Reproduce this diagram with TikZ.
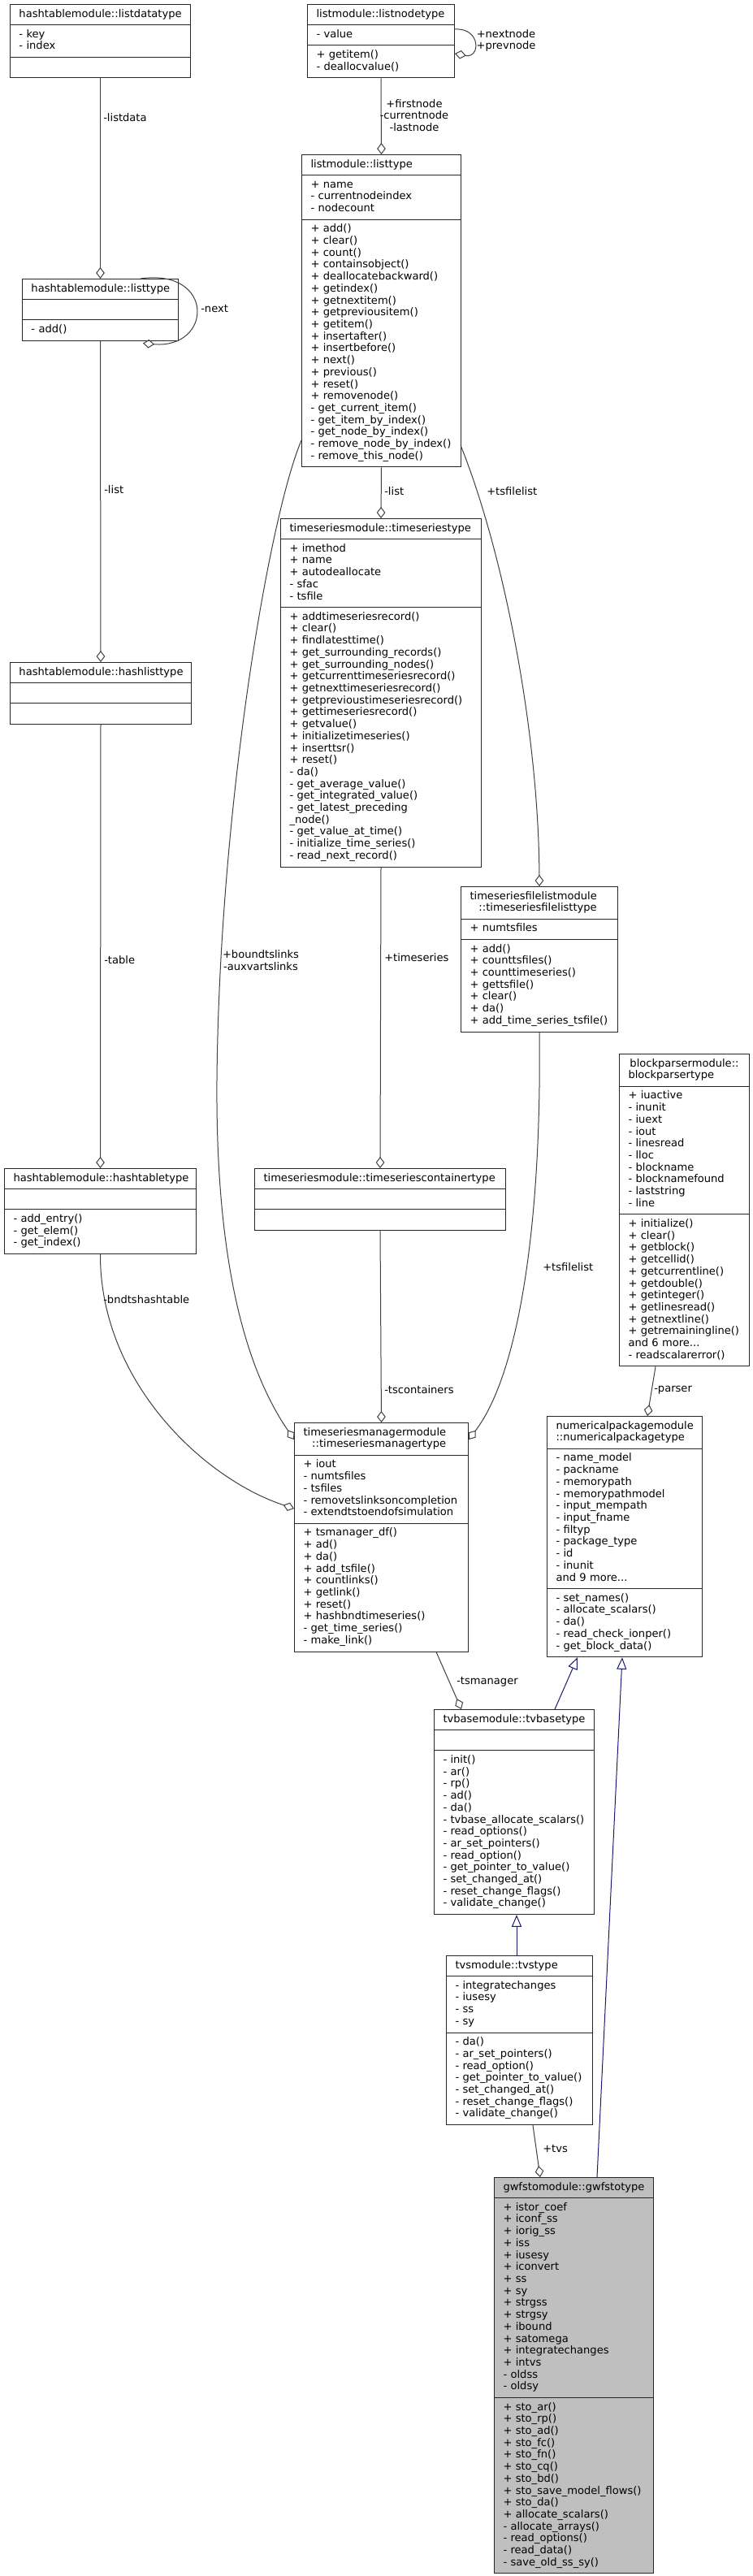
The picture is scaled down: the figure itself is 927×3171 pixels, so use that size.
\documentclass[tikz,border=0pt]{standalone}
\usepackage{fontspec}
\setmainfont{DejaVu Sans}
\usetikzlibrary{shapes.multipart,arrows.meta,calc}
\definecolor{edgegray}{HTML}{404040}
\definecolor{inhblue}{HTML}{191970}
\definecolor{clsgray}{HTML}{BFBFBF}
\newcommand{\cfont}{\fontsize{9.8pt}{11.03pt}\selectfont}
\begin{document}
\begin{tikzpicture}[x=0.75pt,y=-0.75pt,
  cls/.style={draw=black!85, fill=white, line width=0.75pt, rectangle split, rectangle split parts=3,
    inner xsep=8.25pt, inner ysep=3.56pt, anchor=north west, align=left, font=\cfont},
  gcls/.style={cls, fill=clsgray},
  agg/.style={draw=edgegray, line width=0.75pt, -{Diamond[open, length=10.5pt, width=8pt, line width=0.75pt]}},
  inh/.style={draw=inhblue, line width=0.75pt, -{Triangle[open, length=11pt, width=9pt, line width=0.75pt]}},
  lbl/.style={font=\cfont, inner sep=0pt, anchor=west, align=left},
  clbl/.style={font=\cfont, inner sep=0pt, anchor=center, align=center}]
\fill[white] (0,0) rectangle (927,3171);
\path[use as bounding box] (0,0) rectangle (927,3171);

% ---------------- classes ----------------
\node[cls, text width=150pt] (ldata) at (12,5) {\centering\strut hashtablemodule::listdatatype\strut
  \nodepart{two}\strut - key\\- index\strut
  \nodepart{three}\strut};

\node[cls, text width=127.5pt] (hlist) at (27,343) {\centering\strut hashtablemodule::listtype\strut
  \nodepart{two}\strut
  \nodepart{three}\strut - add()\strut};

\node[cls, text width=150.75pt] (hlisttype) at (12,815) {\centering\strut hashtablemodule::hashlisttype\strut
  \nodepart{two}\strut
  \nodepart{three}\strut};

\node[cls, text width=160.5pt] (htable) at (5,1438) {\centering\strut hashtablemodule::hashtabletype\strut
  \nodepart{two}\strut
  \nodepart{three}\strut - add\_entry()\\- get\_elem()\\- get\_index()\strut};

\node[cls, text width=119.25pt] (lnode) at (378,5) {\centering\strut listmodule::listnodetype\strut
  \nodepart{two}\strut - value\strut
  \nodepart{three}\strut + getitem()\\- deallocvalue()\strut};

\node[cls, text width=130.5pt] (ltype) at (371,190) {\centering\strut listmodule::listtype\strut
  \nodepart{two}\strut + name\\- currentnodeindex\\- nodecount\strut
  \nodepart{three}\strut + add()\\+ clear()\\+ count()\\+ containsobject()\\+ deallocatebackward()\\+ getindex()\\+ getnextitem()\\+ getpreviousitem()\\+ getitem()\\+ insertafter()\\+ insertbefore()\\+ next()\\+ previous()\\+ reset()\\+ removenode()\\- get\_current\_item()\\- get\_item\_by\_index()\\- get\_node\_by\_index()\\- remove\_node\_by\_index()\\- remove\_this\_node()\strut};

\node[cls, text width=168.75pt] (tstype) at (345,638) {\centering\strut timeseriesmodule::timeseriestype\strut
  \nodepart{two}\strut + imethod\\+ name\\+ autodeallocate\\- sfac\\- tsfile\strut
  \nodepart{three}\strut + addtimeseriesrecord()\\+ clear()\\+ findlatesttime()\\+ get\_surrounding\_records()\\+ get\_surrounding\_nodes()\\+ getcurrenttimeseriesrecord()\\+ getnexttimeseriesrecord()\\+ getprevioustimeseriesrecord()\\+ gettimeseriesrecord()\\+ getvalue()\\+ initializetimeseries()\\+ inserttsr()\\+ reset()\\- da()\\- get\_average\_value()\\- get\_integrated\_value()\\- get\_latest\_preceding\\\_node()\\- get\_value\_at\_time()\\- initialize\_time\_series()\\- read\_next\_record()\strut};

\node[cls, text width=128.25pt] (tsfl) at (567,1091) {\centering\strut\begin{tabular}[t]{@{}r@{}}timeseriesfilelistmodule\\::timeseriesfilelisttype\end{tabular}\strut
  \nodepart{two}\strut + numtsfiles\strut
  \nodepart{three}\strut + add()\\+ counttsfiles()\\+ counttimeseries()\\+ gettsfile()\\+ clear()\\+ da()\\+ add\_time\_series\_tsfile()\strut};

\node[cls, text width=215.25pt] (tscont) at (313,1438) {\centering\strut timeseriesmodule::timeseriescontainertype\strut
  \nodepart{two}\strut
  \nodepart{three}\strut};

\node[cls, text width=103.5pt] (bparser) at (762,1297) {\centering\strut blockparsermodule::\\blockparsertype\strut
  \nodepart{two}\strut + iuactive\\- inunit\\- iuext\\- iout\\- linesread\\- lloc\\- blockname\\- blocknamefound\\- laststring\\- line\strut
  \nodepart{three}\strut + initialize()\\+ clear()\\+ getblock()\\+ getcellid()\\+ getcurrentline()\\+ getdouble()\\+ getinteger()\\+ getlinesread()\\+ getnextline()\\+ getremainingline()\\and 6 more...\\- readscalarerror()\strut};

\node[cls, text width=144pt] (mgr) at (362,1751) {\centering\strut\begin{tabular}[t]{@{}r@{}}timeseriesmanagermodule\\::timeseriesmanagertype\end{tabular}\strut
  \nodepart{two}\strut + iout\\- numtsfiles\\- tsfiles\\- removetslinksoncompletion\\- extendtstoendofsimulation\strut
  \nodepart{three}\strut + tsmanager\_df()\\+ ad()\\+ da()\\+ add\_tsfile()\\+ countlinks()\\+ getlink()\\+ reset()\\+ hashbndtimeseries()\\- get\_time\_series()\\- make\_link()\strut};

\node[cls, text width=126.75pt] (numpkg) at (673,1743) {\centering\strut numericalpackagemodule\\::numericalpackagetype\strut
  \nodepart{two}\strut - name\_model\\- packname\\- memorypath\\- memorypathmodel\\- input\_mempath\\- input\_fname\\- filtyp\\- package\_type\\- id\\- inunit\\and 9 more...\strut
  \nodepart{three}\strut - set\_names()\\- allocate\_scalars()\\- da()\\- read\_check\_ionper()\\- get\_block\_data()\strut};

\node[cls, text width=131.25pt] (tvbase) at (534,2104) {\centering\strut tvbasemodule::tvbasetype\strut
  \nodepart{two}\strut
  \nodepart{three}\strut - init()\\- ar()\\- rp()\\- ad()\\- da()\\- tvbase\_allocate\_scalars()\\- read\_options()\\- ar\_set\_pointers()\\- read\_option()\\- get\_pointer\_to\_value()\\- set\_changed\_at()\\- reset\_change\_flags()\\- validate\_change()\strut};

\node[cls, text width=118.5pt] (tvs) at (549,2407) {\centering\strut tvsmodule::tvstype\strut
  \nodepart{two}\strut - integratechanges\\- iusesy\\- ss\\- sy\strut
  \nodepart{three}\strut - da()\\- ar\_set\_pointers()\\- read\_option()\\- get\_pointer\_to\_value()\\- set\_changed\_at()\\- reset\_change\_flags()\\- validate\_change()\strut};

\node[gcls, text width=130.5pt] (gwfsto) at (608,2680) {\centering\strut gwfstomodule::gwfstotype\strut
  \nodepart{two}\strut + istor\_coef\\+ iconf\_ss\\+ iorig\_ss\\+ iss\\+ iusesy\\+ iconvert\\+ ss\\+ sy\\+ strgss\\+ strgsy\\+ ibound\\+ satomega\\+ integratechanges\\+ intvs\\- oldss\\- oldsy\strut
  \nodepart{three}\strut + sto\_ar()\\+ sto\_rp()\\+ sto\_ad()\\+ sto\_fc()\\+ sto\_fn()\\+ sto\_cq()\\+ sto\_bd()\\+ sto\_save\_model\_flows()\\+ sto\_da()\\+ allocate\_scalars()\\- allocate\_arrays()\\- read\_options()\\- read\_data()\\- save\_old\_ss\_sy()\strut};

% ---------------- connectors ----------------
\draw[agg] (ldata.south) -- (hlist.north);
\node[lbl] (l-listdata) at (127,145) {-listdata};

\draw[agg] ($(hlist.north west)+(146,0)$) .. controls (265,330) and (262,430) .. ($(hlist.south west)+(149,3)$);
\node[lbl] (l-next) at (247,380) {-next};

\draw[agg] (hlist.south) -- (hlisttype.north);
\node[lbl] (l-hlist) at (128,603) {-list};

\draw[agg] (hlisttype.south) -- (htable.north);
\node[lbl] (l-table) at (128,1182) {-table};

\draw[agg] (lnode.south) -- (ltype.north);
\node[clbl] (l-nodes) at (510,142) {+firstnode\\-currentnode\\-lastnode};

\draw[agg] ($(lnode.north east)+(0,31)$) .. controls (592,34) and (592,72) .. ($(lnode.north east)+(0,61)$);
\node[clbl] (l-nextprev) at (623,50) {+nextnode\\+prevnode};

\draw[agg] (ltype.south) -- (tstype.north);
\node[lbl] (l-list) at (473,605) {-list};

\draw[agg] ($(ltype.north west)+(196,358)$) .. controls (620,680) and (663,900) .. (tsfl.north);
\node[lbl] (l-tsfl1) at (599,605) {+tsfilelist};

\draw[agg] (tstype.south) -- (tscont.north);
\node[lbl] (l-ts) at (473,1179) {+timeseries};

\draw[agg] (tscont.south) -- (mgr.north);
\node[lbl] (l-tsc) at (473,1711) {-tscontainers};

\draw[agg] ($(ltype.north west)+(0,352)$) .. controls (330,640) and (270,1000) .. (267,1330)
   .. controls (265,1600) and (320,1710) .. ($(mgr.north west)+(0,21)$);
\node[clbl] (l-bound) at (321,1182) {+boundtslinks\\-auxvartslinks};

\draw[agg] (tsfl.south) .. controls (667,1500) and (640,1690) .. ($(mgr.north east)+(0,21)$);
\node[lbl] (l-tsfl2) at (668,1560) {+tsfilelist};

\draw[agg] (htable.south) .. controls (123,1700) and (250,1820) .. ($(mgr.north west)+(0,106)$);
\node[lbl] (l-bnd) at (127,1600) {-bndtshashtable};

\draw[agg] ($(bparser.south west)+(45,0)$) -- ($(numpkg.north west)+(124,0)$);
\node[lbl] (l-parser) at (805,1711) {-parser};

\draw[agg] ($(mgr.south west)+(175,0)$) -- ($(tvbase.north west)+(34,0)$);
\node[lbl] (l-tsm) at (562,2070) {-tsmanager};

\draw[inh] ($(tvbase.north west)+(149,0)$) -- ($(numpkg.south west)+(38,0)$);
\draw[inh] ($(tvs.north west)+(87,0)$) -- ($(tvbase.south west)+(102,0)$);
\draw[inh] ($(gwfsto.north west)+(127,0)$) -- ($(numpkg.south west)+(93,0)$);

\draw[agg] ($(tvs.south west)+(107,0)$) -- ($(gwfsto.north west)+(57,0)$);
\node[lbl] (l-tvs) at (668,2645) {+tvs};
\end{tikzpicture}
\end{document}
